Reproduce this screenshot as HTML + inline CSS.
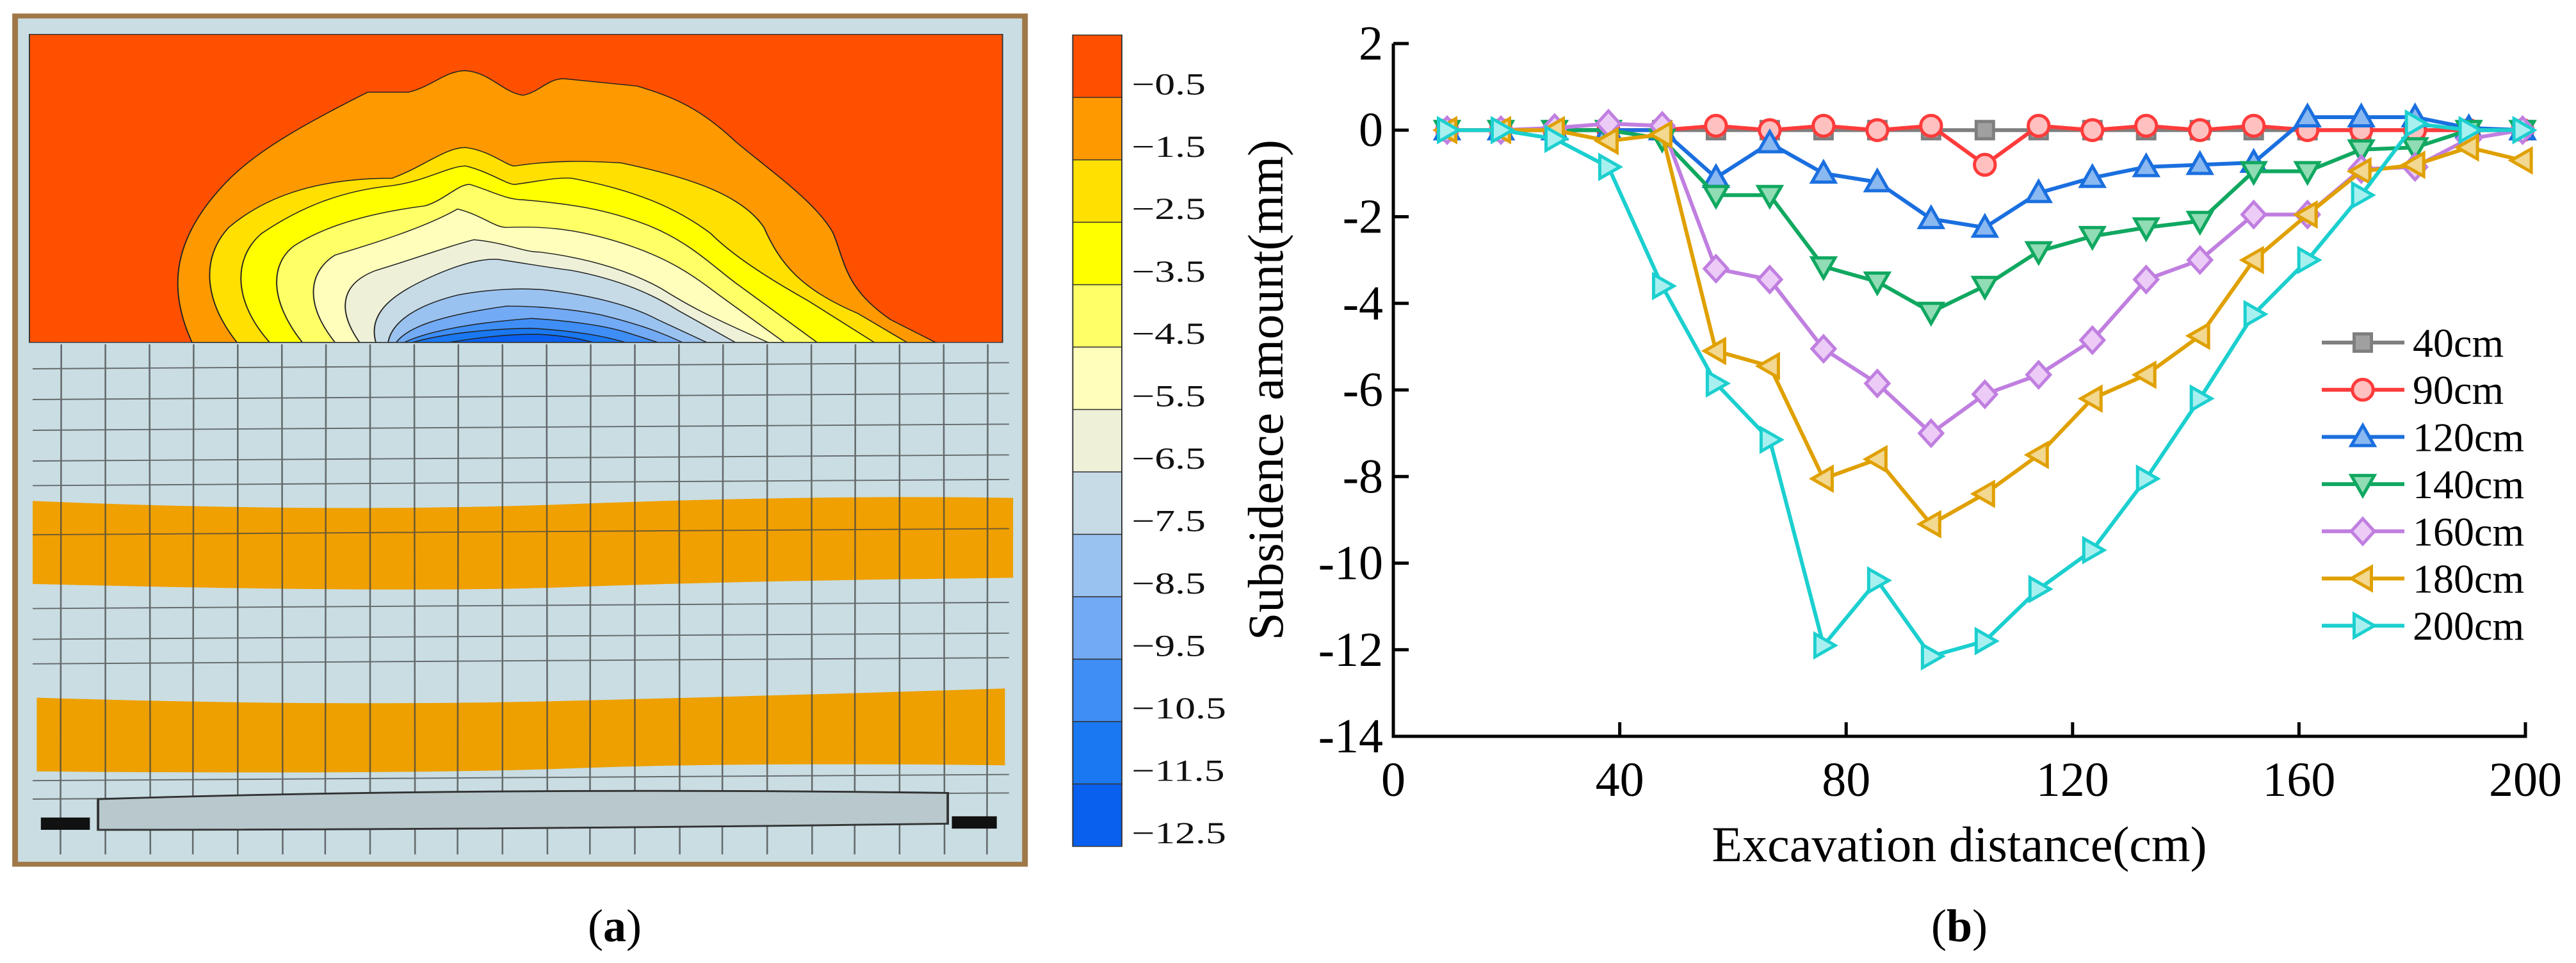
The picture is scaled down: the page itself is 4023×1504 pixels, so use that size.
<!DOCTYPE html>
<html><head><meta charset="utf-8"><style>
html,body{margin:0;padding:0;background:#fff;}
svg{display:block;}
svg text{font-family:"Liberation Serif","Times New Roman",serif;}
</style></head><body>
<svg id="root" width="4023" height="1504" viewBox="0 0 4023 1504" xmlns="http://www.w3.org/2000/svg" font-family="Liberation Serif, serif">
<g id="panelA" transform="scale(1.276,0.96)">
  <rect x="15" y="22" width="1243" height="1388" fill="#a07848"/>
  <rect x="22" y="30" width="1229" height="1372" fill="#c9dde3"/>
  <path d="M40,815 Q400,835 700,820 T1240,810 L1240,940 Q900,945 700,955 T40,950 Z" fill="#f0a000"/>
  <path d="M45,1135 Q400,1150 700,1140 T1230,1120 L1230,1245 Q900,1240 700,1250 T45,1255 Z" fill="#eea000"/>
  <g id="photoGrid" stroke="#444" stroke-width="2" opacity="0.75"></g>
  <path d="M120,1300 Q600,1280 1160,1290 L1160,1340 Q600,1350 120,1350 Z" fill="#b8c8cc" stroke="#333" stroke-width="3"/>
  <rect x="50" y="1330" width="60" height="20" fill="#111"/>
  <rect x="1165" y="1328" width="55" height="20" fill="#111"/>
  <rect x="36" y="56" width="1191" height="501" fill="#ff5000" stroke="#333" stroke-width="1.5"/>
  <g id="contours" stroke="#222" stroke-width="1.5"></g>
  <g id="colorbar"></g>
  <g font-size="50" fill="#111">
    <text x="1385" y="153.5">−0.5</text>
    <text x="1385" y="255">−1.5</text>
    <text x="1385" y="356.5">−2.5</text>
    <text x="1385" y="458.1">−3.5</text>
    <text x="1385" y="559.6">−4.5</text>
    <text x="1385" y="661.2">−5.5</text>
    <text x="1385" y="762.7">−6.5</text>
    <text x="1385" y="864.2">−7.5</text>
    <text x="1385" y="965.8">−8.5</text>
    <text x="1385" y="1067.3">−9.5</text>
    <text x="1385" y="1168.9">−10.5</text>
    <text x="1385" y="1270.4">−11.5</text>
    <text x="1385" y="1372">−12.5</text>
  </g>
</g>
<text x="960" y="1470" font-size="72" text-anchor="middle">(<tspan font-weight="bold">a</tspan>)</text>
<g id="chart"></g>
<g font-size="76" text-anchor="end">
  <text x="2160" y="93">2</text>
  <text x="2160" y="228">0</text>
  <text x="2160" y="363.5">-2</text>
  <text x="2160" y="498.8">-4</text>
  <text x="2160" y="634">-6</text>
  <text x="2160" y="769.3">-8</text>
  <text x="2160" y="904.5">-10</text>
  <text x="2160" y="1039.8">-12</text>
  <text x="2160" y="1175">-14</text>
</g>
<g font-size="76" text-anchor="middle">
  <text x="2176" y="1243">0</text>
  <text x="2529.6" y="1243">40</text>
  <text x="2883.2" y="1243">80</text>
  <text x="3236.8" y="1243">120</text>
  <text x="3590.4" y="1243">160</text>
  <text x="3944" y="1243">200</text>
</g>
<text x="3060" y="1345" font-size="78" text-anchor="middle">Excavation distance(cm)</text>
<text x="0" y="0" font-size="78" text-anchor="middle" transform="translate(2003,609) rotate(-90)">Subsidence amount(mm)</text>
<g font-size="64">
  <text x="3768" y="557">40cm</text>
  <text x="3768" y="630.7">90cm</text>
  <text x="3768" y="704.4">120cm</text>
  <text x="3768" y="778.1">140cm</text>
  <text x="3768" y="851.8">160cm</text>
  <text x="3768" y="925.5">180cm</text>
  <text x="3768" y="999.2">200cm</text>
</g>
<text x="3060" y="1470" font-size="72" text-anchor="middle">(<tspan font-weight="bold">b</tspan>)</text>
</svg>
<script>
const xs = [9.5,19,28.5,38,47.5,57,66.5,76,85.5,95,104.5,114,123.5,133,142.5,152,161.5,171,180.5,190,199.5];
const s40 = [0,0,0,0,0,0,0,0,0,0,0,0,0,0,0,0,0,0,0,0,0];
const s90 = [0,0,0,0,0,0.1,0,0.1,0,0.1,-0.8,0.1,0,0.1,0,0.1,0,0,0,0,0];
const s120 = [0,0,0,0,0,-1.1,-0.3,-1.0,-1.2,-2.05,-2.25,-1.45,-1.1,-0.85,-0.8,-0.75,0.3,0.3,0.3,0.05,0];
const s140 = [0,0,0,0,-0.2,-1.5,-1.5,-3.15,-3.5,-4.2,-3.6,-2.8,-2.45,-2.25,-2.1,-0.95,-0.95,-0.45,-0.4,0,0];
const s160 = [0,0,0.05,0.15,0.1,-3.2,-3.45,-5.05,-5.85,-7.0,-6.1,-5.65,-4.85,-3.45,-3.0,-1.95,-1.95,-0.9,-0.85,-0.2,0];
const s180 = [0,0,0,-0.25,-0.1,-5.1,-5.45,-8.05,-7.6,-9.1,-8.4,-7.5,-6.2,-5.65,-4.75,-3.0,-1.95,-0.95,-0.8,-0.4,-0.7];
const s200 = [0,0,-0.2,-0.85,-3.6,-5.85,-7.15,-11.9,-10.4,-12.15,-11.8,-10.6,-9.7,-8.05,-6.2,-4.25,-3.0,-1.5,0.15,0,0];
const seriesNames = ["40cm","90cm","120cm","140cm","160cm","180cm","200cm"];
const xTicks = [0,40,80,120,160,200];
const yTicks = [2,0,-2,-4,-6,-8,-10,-12,-14];

const NS="http://www.w3.org/2000/svg";
function mk(tag,attrs,parent){const e=document.createElementNS(NS,tag);for(const k in attrs)e.setAttribute(k,attrs[k]);parent.appendChild(e);return e;}

// ---- panel a ----
const grid=document.getElementById('photoGrid');
for(let i=0;i<22;i++){const x=75+i*54;const l=mk('line',{x1:x,y1:560,x2:x+(i%3)-1,y2:1390},grid);

}
[600,650,700,750,790,870,990,1040,1080,1270,1300].forEach(y=>{const l=mk('line',{x1:40,y1:y,x2:1235,y2:y-10},grid);

});

const cColors=["#ff9900","#ffe000","#ffff00","#ffff66","#ffffbb","#eef0d8","#c6dbe6","#9ac2f0","#72aaf5","#3e8ef5","#1a78f0","#0a60ee"];
const cPaths=[
"M235,557 C205,470 215,400 255,330 C290,270 330,230 450,150 L500,150 C530,140 545,115 570,115 C600,118 615,150 640,155 C660,150 670,128 690,128 L780,140 C830,160 860,180 900,230 C940,275 1000,330 1020,380 C1035,430 1035,470 1090,520 L1145,557 Z",
"M290,557 C250,490 245,420 280,370 C320,325 380,290 480,290 C520,270 545,240 570,240 C600,245 620,270 630,270 C680,260 720,262 760,265 C850,290 910,320 935,370 C955,430 980,470 1050,510 L1110,557 Z",
"M330,557 C285,490 285,420 320,380 C370,335 420,310 480,302 C520,295 550,270 570,270 C600,280 620,300 630,300 C660,295 680,288 700,290 C780,310 830,340 870,380 C900,420 950,460 990,490 L1070,557 Z",
"M370,557 C330,490 330,430 360,400 C400,365 460,345 520,335 C545,325 560,300 575,300 C600,310 620,325 640,325 C700,332 740,340 790,365 C840,390 870,430 900,460 L1000,557 Z",
"M410,557 C370,490 380,440 410,415 C460,395 520,370 560,340 C590,350 605,370 620,370 C660,368 700,370 760,395 C820,420 850,450 880,480 L960,557 Z",
"M440,557 C410,500 420,460 460,440 C510,420 550,400 580,390 C620,395 640,410 660,410 C720,420 770,440 810,470 C840,495 860,510 940,557 Z",
"M460,557 C450,510 480,480 520,455 C560,430 590,420 610,422 C650,430 670,435 700,440 C760,455 800,480 830,505 L900,557 Z",
"M475,557 C480,520 515,495 560,480 C600,470 640,468 670,472 C720,480 770,495 805,520 L865,557 Z",
"M485,557 C500,530 545,512 620,498 C660,498 700,503 735,512 C775,525 805,538 835,557 Z",
"M495,557 C525,538 580,525 650,518 C700,522 740,530 765,540 L805,557 Z",
"M505,557 C545,542 600,535 650,534 C700,538 735,545 765,557 Z",
"M550,557 C595,547 630,543 660,544 C690,546 710,551 725,557 Z"];
const cg=document.getElementById('contours');
cPaths.forEach((d,i)=>{const p=mk('path',{d:d,fill:cColors[i]},cg);

});

const cb=document.getElementById('colorbar');
const cbAll=["#ff5000"].concat(cColors);
const cbTop=57,cbBot=1377,cbH=(cbBot-cbTop)/13;
cbAll.forEach((c,i)=>{const r=mk('rect',{x:1313,y:cbTop+i*cbH,width:60,height:cbH,fill:c,stroke:"#333","stroke-width":1.5},cb);

});

// ---- panel b ----
const X0=2176,X1=3944,Y0=68,Y1=1150;
function xS(v){return X0+(v-0)/200*(X1-X0);}
function yS(v){return Y0+(2-v)/16*(Y1-Y0);}
const ch=document.getElementById('chart');
const ax=mk('path',{d:`M${X0},${Y0} L${X0},${Y1} L${X1},${Y1} L${X1},${Y1-22}`,fill:"none",stroke:"#000","stroke-width":5},ch);


yTicks.forEach(v=>{const y=yS(v);const tk=mk('line',{x1:X0,y1:y,x2:X0+24,y2:y,stroke:"#000","stroke-width":5},ch);

});
xTicks.forEach(v=>{const x=xS(v);const tk=mk('line',{x1:x,y1:Y1,x2:x,y2:Y1-22,stroke:"#000","stroke-width":5},ch);

});

const allS=[s40,s90,s120,s140,s160,s180,s200];
const strokes=["#7f7f7f","#ff3b3b","#1a6fdf","#10a860","#c07fe0","#e0a000","#1ccfcf"];
const fills=["#a0a0a0","#ffc0c0","#8ab8f0","#90dcb4","#ecccf6","#f2d890","#a8f0f0"];
const shapes=["sq","ci","up","dn","di","lt","rt"];
function marker(g,shape,x,y,r,st,fl){
  let e;
  if(shape==="sq")e=mk('rect',{x:x-r*0.75,y:y-r*0.75,width:r*1.5,height:r*1.5},g);
  else if(shape==="ci")e=mk('circle',{cx:x,cy:y,r:r*0.9},g);
  else{let pts;
    if(shape==="up")pts=[[x,y-r],[x+r,y+r*0.75],[x-r,y+r*0.75]];
    if(shape==="dn")pts=[[x,y+r],[x+r,y-r*0.75],[x-r,y-r*0.75]];
    if(shape==="di")pts=[[x,y-r*1.1],[x+r*1.0,y],[x,y+r*1.1],[x-r*1.0,y]];
    if(shape==="lt")pts=[[x-r,y],[x+r*0.75,y-r],[x+r*0.75,y+r]];
    if(shape==="rt")pts=[[x+r,y],[x-r*0.75,y-r],[x-r*0.75,y+r]];
    e=mk('polygon',{points:pts.map(p=>p.join(',')).join(' ')},g);}
  e.setAttribute('fill',fl);e.setAttribute('stroke',st);e.setAttribute('stroke-width',5);
  return e;
}
allS.forEach((s,k)=>{
  const g=mk('g',{},ch);
  
  
  const d=s.map((v,i)=>(i?'L':'M')+xS(xs[i])+','+yS(v)).join(' ');
  const p=mk('path',{d:d,fill:"none",stroke:strokes[k],"stroke-width":6,"stroke-linejoin":"round"},g);
  
  
  s.forEach((v,i)=>{const m=marker(g,shapes[k],xS(xs[i]),yS(v),18,strokes[k],fills[k]);
    
    });
});
// legend symbols
const lg=mk('g',{},ch);


seriesNames.forEach((n,k)=>{
  const y=535+k*73.7;
  const e=mk('g',{},lg);
  
  
  mk('line',{x1:3626,y1:y,x2:3755,y2:y,stroke:strokes[k],"stroke-width":6},e);
  marker(e,shapes[k],3690,y,18,strokes[k],fills[k]);
});
</script>
</body></html>
